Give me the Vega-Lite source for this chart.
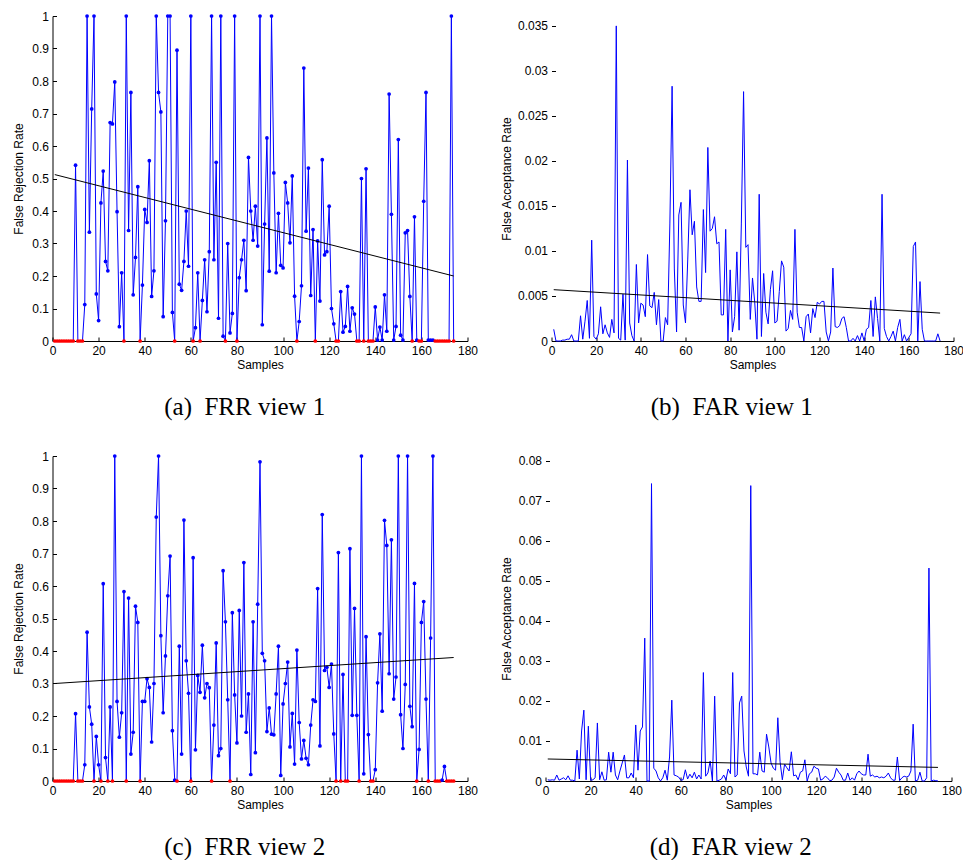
{
  "$schema": "https://vega.github.io/schema/vega-lite/v6.json",
  "background": "white",
  "padding": {"left": 11.5, "top": 10, "right": 0, "bottom": 0},
  "spacing": 30,
  "datasets": {
    "trend": [
      {"s": 1, "a": 0.512, "b": 0.0057, "c": 0.3, "d": 0.0055},
      {"s": 174, "a": 0.2, "b": 0.0031, "c": 0.38, "d": 0.0034}
    ],
    "samples": [
      {"s":1,"a":0,"b":0.0013,"c":0,"d":0.0003},
      {"s":2,"a":0,"b":0,"c":0,"d":0.0002},
      {"s":3,"a":0,"b":0,"c":0,"d":0.0003},
      {"s":4,"a":0,"b":0,"c":0,"d":0.0002},
      {"s":5,"a":0,"b":0.0001,"c":0,"d":0.0015},
      {"s":6,"a":0,"b":0.0001,"c":0,"d":0.0002},
      {"s":7,"a":0,"b":0.0002,"c":0,"d":0.0005},
      {"s":8,"a":0,"b":0.0002,"c":0,"d":0.0008},
      {"s":9,"a":0,"b":0.0007,"c":0,"d":0.0003},
      {"s":10,"a":0.541,"b":0,"c":0.207,"d":0.0013},
      {"s":11,"a":0,"b":0,"c":0,"d":0.0002},
      {"s":12,"a":0,"b":0,"c":0,"d":0.0002},
      {"s":13,"a":0,"b":0.0028,"c":0,"d":0},
      {"s":14,"a":0.112,"b":0.0002,"c":0.05,"d":0.0077},
      {"s":15,"a":1,"b":0.0022,"c":0.458,"d":0.0005},
      {"s":16,"a":0.335,"b":0.0045,"c":0.228,"d":0.0125},
      {"s":17,"a":0.714,"b":0.0003,"c":0.175,"d":0.0177},
      {"s":18,"a":1,"b":0.0112,"c":0,"d":0.0003},
      {"s":19,"a":0.145,"b":0.0005,"c":0.137,"d":0.0137},
      {"s":20,"a":0.063,"b":0.0002,"c":0.05,"d":0.0002},
      {"s":21,"a":0.425,"b":0.0008,"c":0,"d":0.0003},
      {"s":22,"a":0.523,"b":0.0038,"c":0.607,"d":0.0008},
      {"s":23,"a":0.245,"b":0.0008,"c":0.072,"d":0.0145},
      {"s":24,"a":0.216,"b":0.0018,"c":0,"d":0.0003},
      {"s":25,"a":0.672,"b":0.0009,"c":0.228,"d":0.0023},
      {"s":26,"a":0.668,"b":0.0004,"c":0,"d":0.0002},
      {"s":27,"a":0.797,"b":0.0024,"c":1,"d":0.0003},
      {"s":28,"a":0.398,"b":0.0009,"c":0.245,"d":0.0072},
      {"s":29,"a":0.044,"b":0.035,"c":0.135,"d":0.0022},
      {"s":30,"a":0.21,"b":0.0003,"c":0.21,"d":0.0072},
      {"s":31,"a":0,"b":0.0001,"c":0.583,"d":0.0015},
      {"s":32,"a":1,"b":0.0052,"c":0,"d":0.0003},
      {"s":33,"a":0.34,"b":0.0001,"c":0.563,"d":0.0025},
      {"s":34,"a":0.765,"b":0.0201,"c":0.083,"d":0.0045},
      {"s":35,"a":0.142,"b":0.002,"c":0.15,"d":0.0065},
      {"s":36,"a":0.257,"b":0.0006,"c":0.538,"d":0.0008},
      {"s":37,"a":0.475,"b":0,"c":0.488,"d":0.0008},
      {"s":38,"a":0,"b":0.0085,"c":0,"d":0.002},
      {"s":39,"a":0.172,"b":0.002,"c":0.245,"d":0.0008},
      {"s":40,"a":0.405,"b":0.0042,"c":0.245,"d":0.014},
      {"s":41,"a":0.365,"b":0.004,"c":0.315,"d":0.0027},
      {"s":42,"a":0.555,"b":0.0027,"c":0.288,"d":0.0125},
      {"s":43,"a":0.137,"b":0.0096,"c":0.12,"d":0.0135},
      {"s":44,"a":0.216,"b":0.0039,"c":0.3,"d":0.0357},
      {"s":45,"a":1,"b":0.0037,"c":0.812,"d":0},
      {"s":46,"a":0.765,"b":0.0054,"c":1,"d":0},
      {"s":47,"a":0.705,"b":0.0018,"c":0.447,"d":0.0743},
      {"s":48,"a":0.075,"b":0.0046,"c":0.21,"d":0.0032},
      {"s":49,"a":0.37,"b":0,"c":0.385,"d":0.0025},
      {"s":50,"a":1,"b":0,"c":0.57,"d":0.0008},
      {"s":51,"a":1,"b":0.0026,"c":0.692,"d":0},
      {"s":52,"a":0.088,"b":0.0018,"c":0.155,"d":0.0008},
      {"s":53,"a":0,"b":0.013,"c":0.003,"d":0.0027},
      {"s":54,"a":0.895,"b":0.0283,"c":0,"d":0.0002},
      {"s":55,"a":0.175,"b":0.008,"c":0.415,"d":0.006},
      {"s":56,"a":0.156,"b":0.001,"c":0.083,"d":0.0202},
      {"s":57,"a":0.245,"b":0.014,"c":0.803,"d":0.0015},
      {"s":58,"a":0.4,"b":0.0154,"c":0.37,"d":0.0013},
      {"s":59,"a":0.23,"b":0.004,"c":0.27,"d":0.001},
      {"s":60,"a":1,"b":0.002,"c":0,"d":0.0002},
      {"s":61,"a":0,"b":0.009,"c":0.687,"d":0.0003},
      {"s":62,"a":0.041,"b":0.0168,"c":0.096,"d":0.0028},
      {"s":63,"a":0.21,"b":0.0118,"c":0.325,"d":0.0005},
      {"s":64,"a":0,"b":0.0133,"c":0.273,"d":0.0017},
      {"s":65,"a":0.125,"b":0.006,"c":0.418,"d":0.0008},
      {"s":66,"a":0.25,"b":0.0044,"c":0.256,"d":0.0022},
      {"s":67,"a":0.09,"b":0.0044,"c":0.3,"d":0.0005},
      {"s":68,"a":0.275,"b":0.0146,"c":0.287,"d":0.0015},
      {"s":69,"a":1,"b":0.0076,"c":0,"d":0.0005},
      {"s":70,"a":0.25,"b":0.0215,"c":0.172,"d":0.0271},
      {"s":71,"a":0.55,"b":0.0122,"c":0.425,"d":0.0012},
      {"s":72,"a":0.07,"b":0.0125,"c":0.078,"d":0.002},
      {"s":73,"a":1,"b":0.0138,"c":0.1,"d":0.005},
      {"s":74,"a":0.015,"b":0.0108,"c":0.647,"d":0},
      {"s":75,"a":0,"b":0.011,"c":0.49,"d":0.0212},
      {"s":76,"a":0.3,"b":0.0029,"c":0.25,"d":0},
      {"s":77,"a":0.025,"b":0.0029,"c":0,"d":0.0002},
      {"s":78,"a":0.085,"b":0.0124,"c":0.518,"d":0.0005},
      {"s":79,"a":1,"b":0,"c":0.265,"d":0.0015},
      {"s":80,"a":0,"b":0.0079,"c":0.117,"d":0.0003},
      {"s":81,"a":0.195,"b":0.001,"c":0.525,"d":0.003},
      {"s":82,"a":0.25,"b":0.0027,"c":0.2,"d":0.0018},
      {"s":83,"a":0.31,"b":0.0099,"c":0.672,"d":0.0271},
      {"s":84,"a":0.155,"b":0.0012,"c":0.15,"d":0.001},
      {"s":85,"a":0.565,"b":0.013,"c":0.268,"d":0.0015},
      {"s":86,"a":0.4,"b":0.0277,"c":0.02,"d":0.0195},
      {"s":87,"a":0.31,"b":0.0104,"c":0.49,"d":0.0212},
      {"s":88,"a":0.415,"b":0.0107,"c":0.087,"d":0.0075},
      {"s":89,"a":0.292,"b":0.0024,"c":0.544,"d":0.0035},
      {"s":90,"a":1,"b":0.007,"c":0.982,"d":0.0012},
      {"s":91,"a":0.05,"b":0.0043,"c":0.393,"d":0.0738},
      {"s":92,"a":0.36,"b":0.0002,"c":0.37,"d":0.0018},
      {"s":93,"a":0.625,"b":0.0163,"c":0.152,"d":0.0018},
      {"s":94,"a":0.215,"b":0.0005,"c":0.225,"d":0.0015},
      {"s":95,"a":1,"b":0.0075,"c":0.144,"d":0.0072},
      {"s":96,"a":0.517,"b":0.0032,"c":0.142,"d":0.0025},
      {"s":97,"a":0.21,"b":0.0019,"c":0.268,"d":0.0022},
      {"s":98,"a":0.393,"b":0.0057,"c":0.415,"d":0.0117},
      {"s":99,"a":0.233,"b":0.0078,"c":0.017,"d":0.0085},
      {"s":100,"a":0.225,"b":0.002,"c":0.237,"d":0.0045},
      {"s":101,"a":0.488,"b":0.0022,"c":0.3,"d":0.0032},
      {"s":102,"a":0.425,"b":0.0055,"c":0.366,"d":0.0027},
      {"s":103,"a":0.302,"b":0.0089,"c":0.105,"d":0.0158},
      {"s":104,"a":0.508,"b":0.0082,"c":0.208,"d":0.0048},
      {"s":105,"a":0.138,"b":0.0011,"c":0.052,"d":0.0003},
      {"s":106,"a":0,"b":0.0014,"c":0.403,"d":0.0042},
      {"s":107,"a":0.06,"b":0.0034,"c":0.18,"d":0.0033},
      {"s":108,"a":0.17,"b":0.0024,"c":0.068,"d":0.0025},
      {"s":109,"a":0.84,"b":0.0124,"c":0.125,"d":0.0073},
      {"s":110,"a":0.338,"b":0.0032,"c":0.07,"d":0.0013},
      {"s":111,"a":0.532,"b":0.0015,"c":0.05,"d":0.0015},
      {"s":112,"a":0.14,"b":0.0015,"c":0.172,"d":0.0003},
      {"s":113,"a":0.343,"b":0,"c":0.25,"d":0.0022},
      {"s":114,"a":0,"b":0.0027,"c":0.245,"d":0.0025},
      {"s":115,"a":0.308,"b":0.003,"c":0.592,"d":0.0053},
      {"s":116,"a":0.123,"b":0.0009,"c":0.108,"d":0},
      {"s":117,"a":0.558,"b":0.0036,"c":0.82,"d":0.0018},
      {"s":118,"a":0.265,"b":0.0026,"c":0.34,"d":0.0022},
      {"s":119,"a":0.275,"b":0.0043,"c":0.35,"d":0.0037},
      {"s":120,"a":0.415,"b":0.0041,"c":0.288,"d":0.0032},
      {"s":121,"a":0.1,"b":0.0044,"c":0.36,"d":0.003},
      {"s":122,"a":0.053,"b":0.0044,"c":0.145,"d":0.0002},
      {"s":123,"a":0,"b":0.001,"c":0,"d":0.0005},
      {"s":124,"a":0,"b":0,"c":0.703,"d":0.0012},
      {"s":125,"a":0.152,"b":0.001,"c":0,"d":0.0008},
      {"s":126,"a":0.027,"b":0.0081,"c":0.328,"d":0.0001},
      {"s":127,"a":0.045,"b":0.0016,"c":0,"d":0.0002},
      {"s":128,"a":0.168,"b":0.0015,"c":0,"d":0.001},
      {"s":129,"a":0.03,"b":0.0017,"c":0.715,"d":0.0032},
      {"s":130,"a":0.102,"b":0.0025,"c":0.202,"d":0.0022},
      {"s":131,"a":0.083,"b":0.0027,"c":0.531,"d":0.0015},
      {"s":132,"a":0,"b":0.0015,"c":0.202,"d":0.0002},
      {"s":133,"a":0,"b":0,"c":0,"d":0.0002},
      {"s":134,"a":0.5,"b":0,"c":1,"d":0.002},
      {"s":135,"a":0,"b":0.0003,"c":0.022,"d":0.0002},
      {"s":136,"a":0.53,"b":0,"c":0.444,"d":0.0008},
      {"s":137,"a":0,"b":0.0006,"c":0.143,"d":0.0002},
      {"s":138,"a":0,"b":0,"c":0,"d":0.0018},
      {"s":139,"a":0,"b":0.0009,"c":0,"d":0.0025},
      {"s":140,"a":0.105,"b":0,"c":0.035,"d":0.0018},
      {"s":141,"a":0.003,"b":0.0013,"c":0.302,"d":0.0015},
      {"s":142,"a":0.043,"b":0.0015,"c":0.453,"d":0.0015},
      {"s":143,"a":0.003,"b":0.0045,"c":0.215,"d":0.0067},
      {"s":144,"a":0.142,"b":0.0005,"c":0.802,"d":0.0012},
      {"s":145,"a":0.03,"b":0.0049,"c":0.725,"d":0.0015},
      {"s":146,"a":0.76,"b":0.0025,"c":0.33,"d":0.001},
      {"s":147,"a":0.39,"b":0,"c":0.742,"d":0.0012},
      {"s":148,"a":0.003,"b":0.0163,"c":0.252,"d":0.0008},
      {"s":149,"a":0.045,"b":0.0014,"c":0.32,"d":0.001},
      {"s":150,"a":0.62,"b":0.0005,"c":1,"d":0.0008},
      {"s":151,"a":0.018,"b":0,"c":0.204,"d":0.0012},
      {"s":152,"a":0.003,"b":0.0005,"c":0.1,"d":0.002},
      {"s":153,"a":0.333,"b":0.0011,"c":0.297,"d":0.0008},
      {"s":154,"a":0.34,"b":0,"c":1,"d":0.0002},
      {"s":155,"a":0.137,"b":0.0015,"c":0.23,"d":0.0002},
      {"s":156,"a":0,"b":0.0024,"c":0.167,"d":0.006},
      {"s":157,"a":0.382,"b":0,"c":0.608,"d":0.0001},
      {"s":158,"a":0.003,"b":0.0007,"c":0,"d":0.0008},
      {"s":159,"a":0,"b":0,"c":0.097,"d":0.0012},
      {"s":160,"a":0,"b":0.0004,"c":0.488,"d":0.001},
      {"s":161,"a":0.43,"b":0.0008,"c":0.552,"d":0.0012},
      {"s":162,"a":0.765,"b":0.0105,"c":0.252,"d":0.0025},
      {"s":163,"a":0.003,"b":0.011,"c":0,"d":0.0142},
      {"s":164,"a":0.003,"b":0,"c":0.44,"d":0},
      {"s":165,"a":0.003,"b":0.0066,"c":1,"d":0.0002},
      {"s":166,"a":0,"b":0.0013,"c":0,"d":0.0022},
      {"s":167,"a":0,"b":0,"c":0,"d":0},
      {"s":168,"a":0,"b":0,"c":0,"d":0},
      {"s":169,"a":0,"b":0,"c":0.003,"d":0.0008},
      {"s":170,"a":0,"b":0,"c":0.045,"d":0.0532},
      {"s":171,"a":0,"b":0,"c":0,"d":0},
      {"s":172,"a":0,"b":0,"c":0,"d":0.0002},
      {"s":173,"a":1,"b":0.0008,"c":0,"d":0.0001},
      {"s":174,"a":0,"b":0,"c":0,"d":0}
    ]
  },
  "vconcat": [
    {
      "spacing": 21,
      "hconcat": [
        {
          "width": 415, "height": 325,
          "title": {"text": "(a)\u00a0 FRR view 1", "orient": "bottom", "frame": "bounds", "anchor": "middle", "offset": 25},
          "encoding": {
            "x": {"field": "s", "type": "quantitative", "title": "Samples", "scale": {"domain": [0, 180], "nice": false, "zero": false},
                  "axis": {"values": [0,20,40,60,80,100,120,140,160,180], "format": "d", "tickSize": -4, "labelPadding": 8, "titlePadding": 3, "labelFlush": false}},
            "y": {"field": "a", "type": "quantitative", "title": "False Rejection Rate", "scale": {"domain": [0, 1], "nice": false},
                  "axis": {"values": [0,0.1,0.2,0.3,0.4,0.5,0.6,0.7,0.8,0.9,1], "format": "~r", "tickSize": -4, "labelPadding": 8, "minExtent": 21, "maxExtent": 21, "titlePadding": 6.5, "labelOverlap": false}}
          },
          "layer": [
            {"data": {"name": "samples"}, "mark": {"type": "line", "color": "#0000ff", "strokeWidth": 1}},
            {"data": {"name": "samples"}, "mark": {"type": "circle", "size": 14, "opacity": 1},
             "encoding": {"color": {"condition": {"test": "datum.a === 0", "value": "#ff0000"}, "value": "#0000ff"}}},
            {"data": {"name": "trend"}, "mark": {"type": "line", "color": "black", "strokeWidth": 1}}
          ]
        },
        {
          "width": 402, "height": 325,
          "title": {"text": "(b)\u00a0 FAR view 1", "orient": "bottom", "frame": "bounds", "anchor": "middle", "offset": 25},
          "encoding": {
            "x": {"field": "s", "type": "quantitative", "title": "Samples", "scale": {"domain": [0, 180], "nice": false, "zero": false},
                  "axis": {"values": [0,20,40,60,80,100,120,140,160,180], "format": "d", "tickSize": -4, "labelPadding": 8, "titlePadding": 3, "labelFlush": false}},
            "y": {"field": "b", "type": "quantitative", "title": "False Acceptance Rate", "scale": {"domain": [0, 0.0361], "nice": false},
                  "axis": {"values": [0,0.005,0.01,0.015,0.02,0.025,0.03,0.035], "format": "~r", "domain": false, "tickSize": -4, "labelPadding": 8, "minExtent": 34, "maxExtent": 34, "titlePadding": 4.5, "labelOverlap": false}}
          },
          "layer": [
            {"data": {"name": "samples"}, "mark": {"type": "line", "color": "#0000ff", "strokeWidth": 1}},
            {"data": {"name": "trend"}, "mark": {"type": "line", "color": "black", "strokeWidth": 1}},
            {"mark": {"type": "rule", "color": "black", "strokeWidth": 1},
             "encoding": {"x": {"datum": 0}, "y": {"datum": 0}, "y2": {"datum": 0.035}}}
          ]
        }
      ]
    },
    {
      "spacing": 21,
      "hconcat": [
        {
          "width": 415, "height": 325,
          "title": {"text": "(c)\u00a0 FRR view 2", "orient": "bottom", "frame": "bounds", "anchor": "middle", "offset": 25},
          "encoding": {
            "x": {"field": "s", "type": "quantitative", "title": "Samples", "scale": {"domain": [0, 180], "nice": false, "zero": false},
                  "axis": {"values": [0,20,40,60,80,100,120,140,160,180], "format": "d", "tickSize": -4, "labelPadding": 8, "titlePadding": 3, "labelFlush": false}},
            "y": {"field": "c", "type": "quantitative", "title": "False Rejection Rate", "scale": {"domain": [0, 1], "nice": false},
                  "axis": {"values": [0,0.1,0.2,0.3,0.4,0.5,0.6,0.7,0.8,0.9,1], "format": "~r", "tickSize": -4, "labelPadding": 8, "minExtent": 21, "maxExtent": 21, "titlePadding": 6.5, "labelOverlap": false}}
          },
          "layer": [
            {"data": {"name": "samples"}, "mark": {"type": "line", "color": "#0000ff", "strokeWidth": 1}},
            {"data": {"name": "samples"}, "mark": {"type": "circle", "size": 14, "opacity": 1},
             "encoding": {"color": {"condition": {"test": "datum.c === 0", "value": "#ff0000"}, "value": "#0000ff"}}},
            {"data": {"name": "trend"}, "mark": {"type": "line", "color": "black", "strokeWidth": 1}}
          ]
        },
        {
          "width": 406, "height": 325,
          "title": {"text": "(d)\u00a0 FAR view 2", "orient": "bottom", "frame": "bounds", "anchor": "middle", "offset": 25},
          "encoding": {
            "x": {"field": "s", "type": "quantitative", "title": "Samples", "scale": {"domain": [0, 180], "nice": false, "zero": false},
                  "axis": {"values": [0,20,40,60,80,100,120,140,160,180], "format": "d", "tickSize": -4, "labelPadding": 8, "titlePadding": 3, "labelFlush": false}},
            "y": {"field": "d", "type": "quantitative", "title": "False Acceptance Rate", "scale": {"domain": [0, 0.0812], "nice": false},
                  "axis": {"values": [0,0.01,0.02,0.03,0.04,0.05,0.06,0.07,0.08], "format": "~r", "domain": false, "tickSize": -4, "labelPadding": 8, "minExtent": 27.5, "maxExtent": 27.5, "titlePadding": 5, "labelOverlap": false}}
          },
          "layer": [
            {"data": {"name": "samples"}, "mark": {"type": "line", "color": "#0000ff", "strokeWidth": 1}},
            {"data": {"name": "trend"}, "mark": {"type": "line", "color": "black", "strokeWidth": 1}},
            {"mark": {"type": "rule", "color": "black", "strokeWidth": 1},
             "encoding": {"x": {"datum": 0}, "y": {"datum": 0}, "y2": {"datum": 0.08}}}
          ]
        }
      ]
    }
  ],
  "config": {
    "view": {"stroke": null},
    "font": "Liberation Sans",
    "title": {"font": "Liberation Serif", "fontSize": 25, "fontWeight": "normal", "color": "black"},
    "axis": {
      "grid": false,
      "domainColor": "black", "domainWidth": 1,
      "tickColor": "black", "tickWidth": 1,
      "labelColor": "black", "labelFont": "Liberation Sans", "labelFontSize": 12,
      "titleColor": "black", "titleFont": "Liberation Sans", "titleFontSize": 12, "titleFontWeight": "normal"
    }
  }
}
